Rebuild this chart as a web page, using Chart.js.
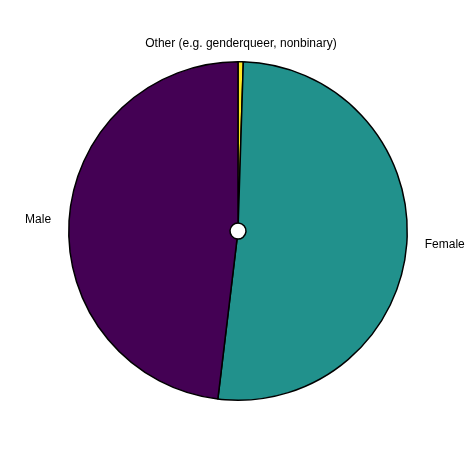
<!DOCTYPE html>
<html>
<head>
<meta charset="utf-8">
<script src="https://cdn.jsdelivr.net/npm/chart.js@4"></script>
<style>
  body { margin: 0; background: #fff; }
</style>
</head>
<body>
<canvas id="pieChart" width="472" height="472"></canvas>
<script>
// data
let genderLabels = ['Other (e.g. genderqueer, nonbinary)', 'Female', 'Male'];
let genderValues = [0.5, 51.4, 48.1];
let genderColors = ['#fde725', '#21918c', '#440154'];

// label outside each slice
const outsideLabels = {
    id: 'outsideLabels',
    afterDatasetsDraw(chart) {
        const ctx = chart.ctx;
        const arcs = chart.getDatasetMeta(0).data;
        ctx.save();
        ctx.font = '12px "Liberation Sans", Arial, sans-serif';
        ctx.fillStyle = '#000';
        ctx.textBaseline = 'middle';
        arcs.forEach((arc, i) => {
            const mid = (arc.startAngle + arc.endAngle) / 2;
            const r = arc.outerRadius + 18;
            const x = arc.x + Math.cos(mid) * r;
            const y = arc.y + Math.sin(mid) * r;
            const c = Math.cos(mid);
            ctx.textAlign = Math.abs(c) < 0.1 ? 'center' : (c > 0 ? 'left' : 'right');
            ctx.fillText(genderLabels[i], x, y);
        });
        ctx.restore();
    }
};

new Chart(document.getElementById('pieChart'), {
    type: 'doughnut',
    data: {
        labels: genderLabels,
        datasets: [{
            data: genderValues,
            backgroundColor: genderColors,
            borderColor: '#000',
            borderWidth: 1.5
        }]
    },
    options: {
        responsive: false,
        animation: false,
        cutout: 8,
        layout: { padding: { left: 68, right: 64, top: 61, bottom: 71 } },
        plugins: {
            legend: { display: false },
            tooltip: { enabled: false }
        }
    },
    plugins: [outsideLabels]
});
</script>
</body>
</html>
